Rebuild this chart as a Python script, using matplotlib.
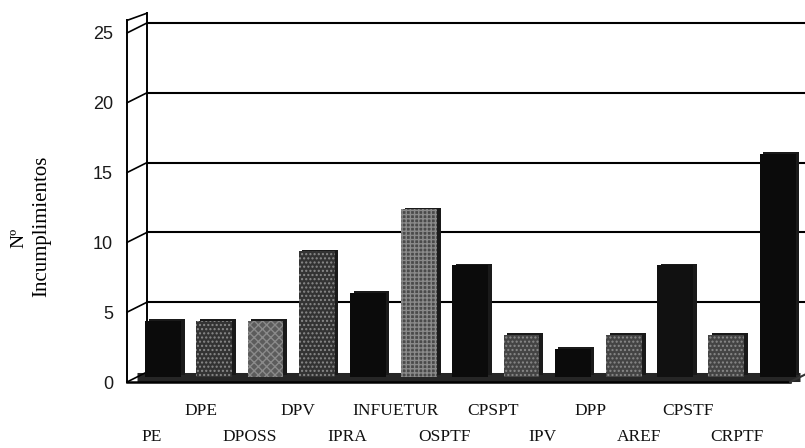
import matplotlib.pyplot as plt
from matplotlib import transforms

# incumplimientos por apartado
categorias = ['PE', 'DPE', 'DPOSS', 'DPV', 'IPRA', 'INFUETUR', 'OSPTF',
              'CPSPT', 'IPV', 'DPP', 'AREF', 'CPSTF', 'CRPTF']
incumplimientos = [4, 4, 4, 9, 6, 12, 8, 3, 2, 3, 8, 3, 16]
marcas_y = [0, 5, 10, 15, 20, 25]

# relleno de cada columna (negro liso o gris tramado)
rellenos = ['#0b0b0b', '#333333', '#5c5c5c', '#333333', '#0b0b0b', '#4a4a4a', '#0b0b0b',
            '#444444', '#0b0b0b', '#444444', '#111111', '#444444', '#0b0b0b']
tramas = [None, '....', 'xxxx', '....', None, '++++', None,
          '....', None, '....', None, '....', None]

# profundidad de la caja 3D en pixeles
PROF_DX, PROF_DY = 20, 10
X0, X1 = -0.51, 12.44
Y_TOP = 25.9

fig = plt.figure(figsize=(8.05, 4.48), dpi=100)
ax = fig.add_axes([127 / 805, 66 / 448, 678 / 805, 361.6 / 448])
ax.set_xlim(-0.51, 12.73)
ax.set_ylim(0, Y_TOP)
for s in ax.spines.values():
    s.set_visible(False)


def prof(f):
    # desplaza los elementos hacia el fondo de la caja
    return ax.transData + transforms.Affine2D().translate(f * PROF_DX, f * PROF_DY)


fondo = prof(1)
frente = prof(0)

# suelo
ax.plot([X0, X1], [0, 0], color='#262626', lw=6.5, transform=prof(0.5),
        solid_capstyle='butt', clip_on=False, zorder=1)
ax.plot([X0, X1], [0, 0], color='black', lw=1.8, transform=frente, clip_on=False, zorder=4)
ax.plot([X1, X1 + PROF_DX / 51.2], [0, PROF_DY / 13.96], color='#333333', lw=1.5,
        clip_on=False, zorder=4)

# pared del fondo y pared izquierda
for v in marcas_y[1:]:
    ax.plot([X0, X1 + 1], [v, v], color='black', lw=1.5, transform=fondo,
            clip_on=False, zorder=1)
for v in marcas_y:
    ax.plot([X0, X0 + PROF_DX / 51.2], [v, v + PROF_DY / 13.96], color='black', lw=1.2,
            clip_on=False, zorder=1)
ax.plot([X0, X0], [0, Y_TOP], color='black', lw=1.4, clip_on=False, zorder=2)
ax.plot([X0, X0], [0, Y_TOP - 0.2], color='black', lw=1.4, transform=fondo,
        clip_on=False, zorder=2)
ax.plot([X0, X0 + PROF_DX / 51.2], [Y_TOP, Y_TOP - 0.2 + PROF_DY / 13.96],
        color='black', lw=1.2, clip_on=False, zorder=2)

# columnas: cara trasera (lateral y tapa) y cara frontal
x = list(range(len(categorias)))
ax.bar(x, incumplimientos, width=0.7, color='#1a1a1a', linewidth=0,
       transform=prof(0.68), zorder=3)
for xi, h, c, t in zip(x, incumplimientos, rellenos, tramas):
    ax.bar(xi, h, width=0.7, color=c, linewidth=0, transform=prof(0.5), zorder=3,
           hatch=t, edgecolor='#8a8a8a' if t else c)

ax.set_xticks([])
ax.set_yticks(marcas_y)
ax.set_yticklabels([str(v) for v in marcas_y], fontfamily='Liberation Sans',
                   fontsize=13, color='#1a1a1a')
ax.tick_params(axis='y', length=0, pad=10)

# etiquetas de categorias en dos filas
lab = ax.twiny()
lab.set_xlim((127 - 152) / 48.75, (805 - 152) / 48.75)
for s in lab.spines.values():
    s.set_visible(False)
lab.xaxis.set_ticks_position('bottom')
lab.set_xticks(x[1::2])
lab.set_xticklabels(categorias[1::2])
lab.set_xticks(x[0::2], minor=True)
lab.set_xticklabels(categorias[0::2], minor=True)
lab.tick_params(axis='x', which='major', length=0, pad=15)
lab.tick_params(axis='x', which='minor', length=0, pad=34)
for t in lab.get_xticklabels(which='both'):
    t.set_fontfamily('Liberation Serif')
    t.set_fontsize(12.5)
    t.set_color('#111111')

fig.text(19 / 805, 1 - 238 / 448, 'Nº', rotation=90, ha='center', va='center',
         fontfamily='Liberation Serif', fontsize=14)
fig.text(42 / 805, 1 - 226 / 448, 'Incumplimientos', rotation=90, ha='center',
         va='center', fontfamily='Liberation Serif', fontsize=15)

fig.savefig('out.png', dpi=100)
